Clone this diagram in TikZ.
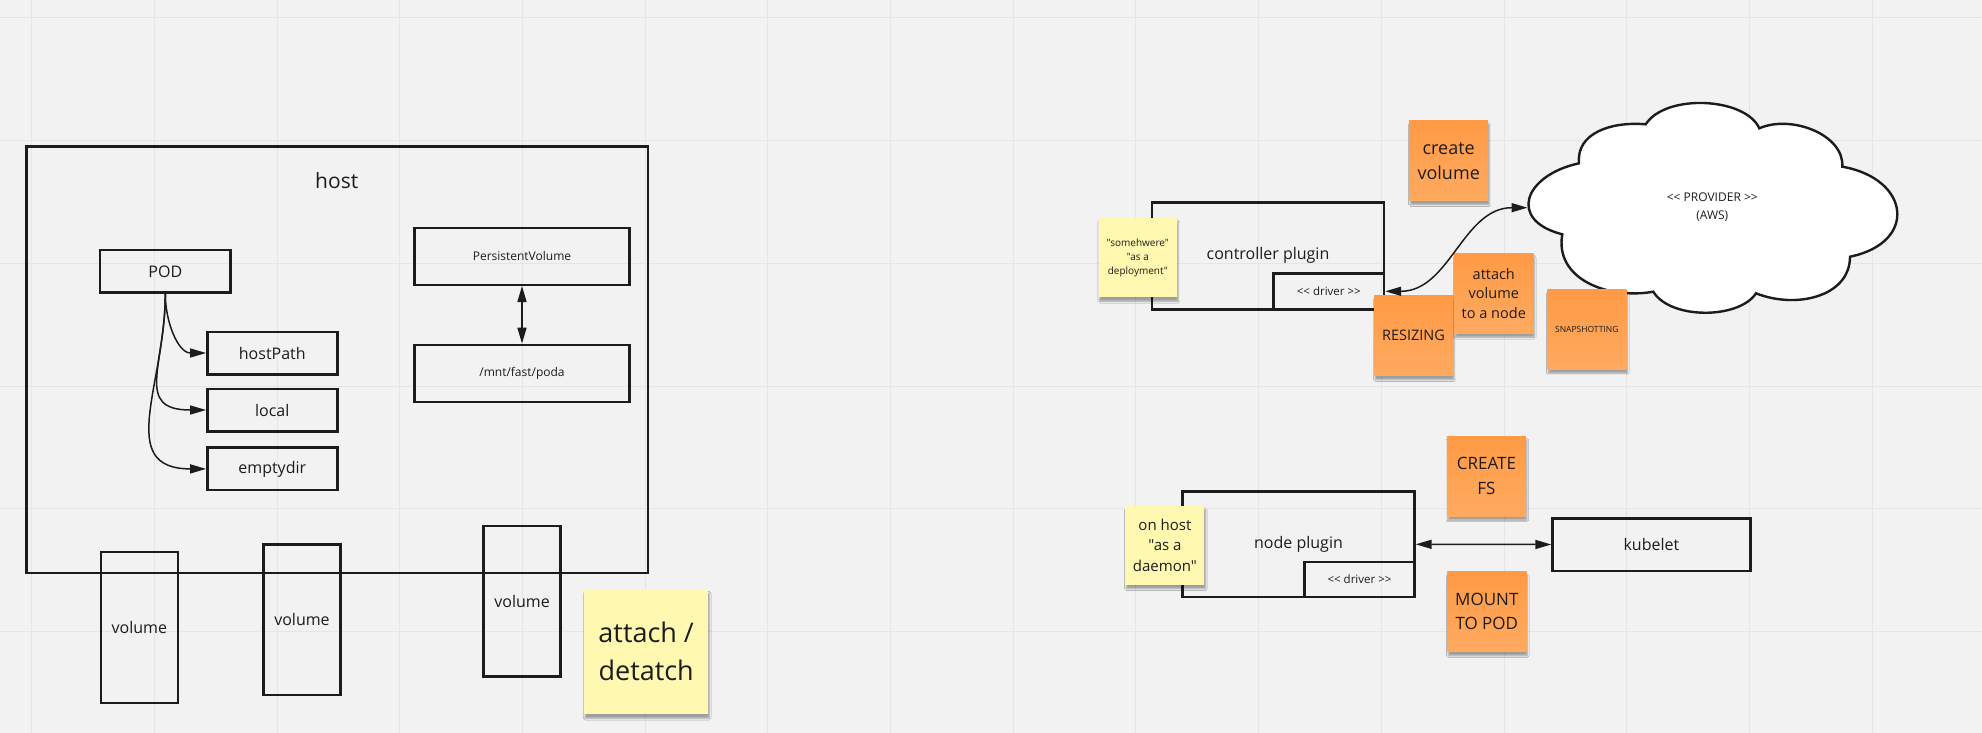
\documentclass[tikz,border=0pt]{standalone}
\usepackage{fontspec}
\usepackage{tikz}
\usetikzlibrary{arrows.meta,shadows.blur}

\newfontfamily\boardfont{Open Sans}
\newcommand{\fsz}[2]{\boardfont\fontsize{#1}{#2}\selectfont}

\definecolor{boardgray}{HTML}{F2F2F2}
\definecolor{gridgray}{HTML}{E5E5E5}
\definecolor{ink}{HTML}{1C1C1C}
\definecolor{noteorange}{HTML}{FF9A45}
\definecolor{noteorangelt}{HTML}{FFAA60}
\definecolor{noteyellow}{HTML}{FFF8B0}

\begin{document}
\begin{tikzpicture}
  [x=1pt,y=1pt,>={Triangle[length=16pt,width=9pt]},
   box/.style={draw=ink,line width=2.4pt,inner sep=0pt,text=ink},
   smallbox/.style={box,font=\fsz{16}{20},minimum width=130pt,minimum height=42.6pt},
   volbox/.style={box,font=\fsz{16}{20},minimum width=77pt,minimum height=150.8pt},
   note/.style={inner sep=0pt,align=center,text=ink,
     blur shadow={shadow xshift=1pt,shadow yshift=-4pt,shadow opacity=35,shadow blur steps=5}},
   orangenote/.style={note,top color=noteorange,bottom color=noteorangelt,minimum width=79pt,minimum height=80pt},
   yellownote/.style={note,fill=noteyellow},
   link/.style={draw=ink,line width=1.5pt}]

  \useasboundingbox (0,0) rectangle (1982,-733);
  \fill[boardgray] (0,0) rectangle (1982,-733);
  \foreach \i in {0,...,15}
    \draw[gridgray,line width=1pt] ({31.6+122.7*\i},0) -- ++(0,-733);
  \foreach \j in {0,...,5}
    \draw[gridgray,line width=1pt] (0,{-17.9-122.7*\j}) -- ++(1982,0);

  % host
  \node[box,minimum width=621.5pt,minimum height=426pt] (host) at (337.3,-359.7) {};
  \node[font=\fsz{21}{25},text=ink] (hostlbl) at (336.7,-180.5) {host};

  \node[smallbox,minimum width=130.7pt] (pod) at (165.3,-271.3) {POD};
  \node[smallbox] (hostpath) at (272.3,-353) {hostPath};
  \node[smallbox] (local) at (272.3,-410) {local};
  \node[smallbox] (emptydir) at (272.3,-468.9) {emptydir};

  \node[box,font=\fsz{12}{15},minimum width=214.7pt,minimum height=57pt] (pv) at (522,-256.3) {PersistentVolume};
  \node[box,font=\fsz{12}{15},minimum width=214.7pt,minimum height=57pt] (mnt) at (522,-373.3) {/mnt/fast/poda};

  \draw[link,->] (pod.south) to[out=-90,in=180] (hostpath.west);
  \draw[link,->] (pod.south) to[out=-90,in=180,looseness=1.5] (local.west);
  \draw[link,->] (pod.south) to[out=-90,in=180,looseness=1.3] (emptydir.west);
  \draw[link,<->] (pv.south) -- (mnt.north);

  \node[volbox] (vol1) at (139.3,-627.3) {volume};
  \node[volbox] (vol2) at (302,-619.7) {volume};
  \node[volbox] (vol3) at (522.1,-601.2) {volume};

  \node[yellownote,font=\fsz{27}{38},minimum width=124.3pt,minimum height=125pt] (attach) at (646.2,-651.8) {attach /\\detatch};

  % provider cloud
  \filldraw[draw=ink,fill=white,line width=2.4pt,line join=miter]
    (1562.3,-234.3) .. controls +(-55,14) and +(-55,-12) .. (1579,-163.3)
    .. controls +(-3,30) and +(-35,3) .. (1645.7,-124.3)
    .. controls +(20,31) and +(-14,31) .. (1759.3,-128.3)
    .. controls +(32,14) and +(2,32) .. (1842.3,-166.7)
    .. controls +(68,-12) and +(68,14) .. (1850,-256.7)
    .. controls +(0,-40) and +(40,-16) .. (1756,-293.3)
    .. controls +(-17,-26) and +(17,-28) .. (1653.3,-291.7)
    .. controls +(-45,-8) and +(-8,-45) .. cycle;
  \node[text=ink,align=center,font=\fsz{12}{18.5}] (provider) at (1712.3,-206.9) {<< PROVIDER >>\\(AWS)};
  \coordinate (providerin) at (1527.5,-207.7);

  % controller plugin
  \node[box,font=\fsz{16}{20},minimum width=232pt,minimum height=107pt] (ctrl) at (1268,-255.8) {controller plugin};
  \node[box,font=\fsz{11.5}{14},minimum width=110.4pt,minimum height=36pt] (ctrldrv) at (1328.8,-291.3) {<< driver >>};

  \node[yellownote,font=\fsz{10}{14},minimum width=78.4pt,minimum height=79.6pt] (somewhere) at (1137.8,-257.5) {"somehwere"\\"as a\\deployment"};
  \node[orangenote,font=\fsz{18}{25}] (createvol) at (1448.7,-160.7) {create\\volume};
  \node[orangenote,font=\fsz{14.5}{18}] (resizing) at (1413.5,-335.7) {RESIZING};
  \node[orangenote,font=\fsz{14.5}{19.7}] (attachvol) at (1493.8,-293.3) {attach\\volume\\to a node};
  \node[orangenote,font=\fsz{8.5}{10}] (snap) at (1586.8,-329.2) {SNAPSHOTTING};

  \draw[link,<->] (ctrldrv.east) to[out=0,in=180] (providerin);

  % node plugin
  \node[box,font=\fsz{16}{20},minimum width=231.9pt,minimum height=105.3pt] (nodeplug) at (1298.5,-544.3) {node plugin};
  \node[box,font=\fsz{11.5}{14},minimum width=109.8pt,minimum height=35.3pt] (nodedrv) at (1359.5,-579.4) {<< driver >>};
  \node[yellownote,font=\fsz{15}{20.7},minimum width=79.1pt,minimum height=79pt] (onhost) at (1164.9,-545.2) {on host\\"as a\\daemon"};
  \node[orangenote,font=\fsz{17}{25}] (createfs) at (1486.4,-476) {CREATE\\FS};
  \node[orangenote,font=\fsz{17}{24}] (mountpod) at (1486.8,-611.8) {MOUNT\\TO POD};
  \node[box,font=\fsz{16}{20},minimum width=197.8pt,minimum height=52.4pt] (kubelet) at (1651.4,-544.5) {kubelet};

  \draw[link,<->] (nodeplug.east) -- (kubelet.west);

\end{tikzpicture}
\end{document}
